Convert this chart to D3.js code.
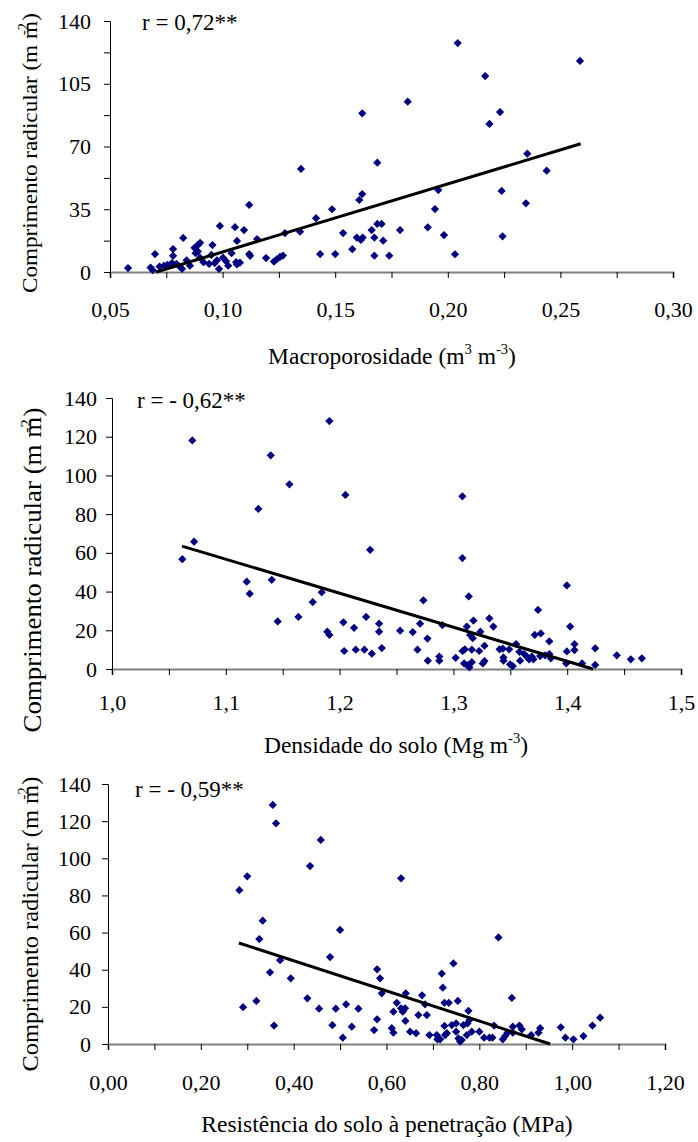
<!DOCTYPE html>
<html>
<head>
<meta charset="utf-8">
<title>Comprimento radicular</title>
<script src="https://cdn.jsdelivr.net/npm/d3@7"></script>
<style>
  body { margin: 0; background: #fff; }
  svg text { font-family: "Liberation Serif", "Times New Roman", serif; fill: #000; }
</style>
</head>
<body>
<div id="chart"></div>
<script>
// values: [x, comprimento radicular]
const macroPoints = [
  [0.058,2.2],[0.068,2.5],[0.069,1.0],[0.070,10],[0.072,3.0],[0.074,3.5],[0.0755,4.0],[0.078,12.8],
  [0.078,9.0],[0.0775,5.0],[0.0795,4.5],[0.081,3.0],[0.0825,19],[0.082,1.8],[0.084,6.5],[0.0855,3.5],
  [0.0875,13.5],[0.089,15],[0.090,16.3],[0.088,10.5],[0.089,11.5],[0.090,8.0],[0.0915,5.5],[0.094,4.5],
  [0.0955,15],[0.095,9.5],[0.0965,5.0],[0.0975,6.5],[0.0988,25.7],[0.0984,1.7],[0.1002,8.0],[0.1015,6.0],
  [0.1025,3.5],[0.104,10.5],[0.1055,25],[0.1064,17.3],[0.106,5.5],[0.1064,4.2],[0.1077,5.2],[0.1095,23.4],
  [0.1118,37.4],[0.1118,10],[0.1122,9],[0.1153,18.4],[0.1193,7.8],[0.1228,5.8],[0.124,7.0],[0.1255,8.4],
  [0.1268,9.2],[0.1277,21.7],[0.1348,57.5],[0.1344,22.5],[0.1415,30],[0.1433,10],[0.1486,35],[0.150,10],
  [0.1535,21.7],[0.1576,12.7],[0.1596,19.2],[0.1614,17.9],[0.1622,19.2],[0.1607,40.2],[0.162,43.5],
  [0.162,88.5],[0.1662,23.4],[0.1674,19.2],[0.1674,9.1],[0.1687,26.8],[0.1706,26.8],[0.1687,61],
  [0.1713,17.5],[0.174,9.1],[0.1788,23.4],[0.1822,95],[0.1911,24.9],[0.1943,35.1],[0.1958,45.7],
  [0.1983,20.6],[0.2032,9.9],[0.2044,127.7],[0.2166,109.3],[0.2185,82.6],[0.2232,89.2],[0.2239,45.2],
  [0.2243,19.9],[0.2347,38.3],[0.2353,66],[0.2439,56.5],[0.2587,117.7]
];
const densityPoints = [
  [1.0618,56.7],[1.0706,118.1],[1.0721,65.8],[1.1184,45.1],[1.121,38.9],[1.1286,82.7],[1.1395,110.4],
  [1.1404,46.1],[1.1456,24.6],[1.1559,95.4],[1.1638,26.9],[1.1764,34.6],[1.1843,39.6],[1.1892,19.3],
  [1.191,17.6],[1.191,128.1],[1.2033,24.1],[1.204,9.3],[1.2051,89.9],[1.2127,21.3],[1.2142,10],
  [1.2218,10],[1.2233,26.9],[1.2268,61.6],[1.2283,7.9],[1.2347,23.4],[1.2347,19.3],[1.2371,10.8],
  [1.2532,19.8],[1.2643,19.1],[1.2684,10],[1.2707,23.4],[1.2736,35.5],[1.2772,15.7],[1.2775,4.3],
  [1.2876,6.4],[1.2876,4.3],[1.2903,22.7],[1.302,5.8],[1.3079,89.2],[1.3079,57.3],[1.308,9.3],
  [1.310,10.2],[1.3094,2.9],[1.3123,2.0],[1.314,0.9],[1.3118,21.9],[1.3135,37.5],[1.3147,17.6],
  [1.317,15.9],[1.3176,25],[1.3162,10],[1.3162,3.5],[1.3226,9.3],[1.3237,19.3],[1.3258,2.9],
  [1.3273,4.1],[1.3273,12],[1.3316,26.2],[1.3351,21.9],[1.3406,10.2],[1.3434,10.5],[1.344,6.0],
  [1.344,4.3],[1.349,10.2],[1.3498,2.4],[1.3522,1.5],[1.3551,12.9],[1.358,8.9],[1.3586,4.3],
  [1.3622,7.7],[1.3645,6.4],[1.3665,5.0],[1.3689,6.4],[1.3703,5.0],[1.3715,17.6],[1.3744,30.5],
  [1.3768,18.4],[1.3762,6.7],[1.3806,7.1],[1.3843,7.7],[1.3856,5.5],[1.3843,14.3],[1.3997,43.2],
  [1.3997,9.1],[1.3991,2.9],[1.4026,21.9],[1.4064,12.8],[1.4064,9.8],[1.4131,2.9],[1.4246,10.7],
  [1.4246,2.1],[1.4436,7.1],[1.4559,5.0],[1.4656,5.5]
];
const resistancePoints = [
  [0.283,82.8],[0.291,19.8],[0.300,90.3],[0.3196,23.2],[0.326,56.5],[0.3333,66.4],[0.349,38.6],
  [0.355,128.7],[0.3577,9.9],[0.362,118.8],[0.3707,45.1],[0.3937,35.4],[0.4295,24.6],[0.4353,95.8],
  [0.4547,19],[0.4584,109.9],[0.4784,46.8],[0.4834,10.1],[0.4907,19],[0.50,61.4],[0.5058,3.4],
  [0.5129,21.4],[0.5252,9.3],[0.5395,19],[0.5732,7.5],[0.5797,13.3],[0.5797,40.2],[0.5862,35.4],
  [0.5898,27.3],[0.6114,8.5],[0.6149,6.1],[0.6149,17.4],[0.6221,22.2],[0.6314,89.2],[0.6314,19.2],
  [0.635,17.4],[0.64,19.2],[0.6415,27.3],[0.6407,12.4],[0.6508,6.6],[0.6637,5.8],[0.6687,15.6],
  [0.6767,26.2],[0.6831,21.4],[0.6868,15.6],[0.6925,4.8],[0.7083,4.8],[0.7097,2.5],[0.7155,2.5],
  [0.7191,37.9],[0.7213,30.3],[0.7248,22.2],[0.7342,22.2],[0.7248,9.7],[0.730,5.8],[0.7262,4.8],
  [0.7407,10.2],[0.750,11.1],[0.7442,43.4],[0.7536,23.2],[0.750,6.6],[0.755,3.0],[0.7586,1.3],
  [0.762,2.2],[0.7657,10.2],[0.773,4.8],[0.7765,17.9],[0.7743,11.1],[0.7787,12.9],[0.7837,6.6],
  [0.800,6.6],[0.8103,3.4],[0.8217,3.4],[0.8282,3.4],[0.8318,9.9],[0.8412,57.4],[0.8505,2.5],
  [0.8555,4.3],[0.8605,6.1],[0.870,24.8],[0.8721,9.3],[0.8721,6.1],[0.8864,9.9],[0.8915,7.9],
  [0.9116,4.8],[0.9273,6.1],[0.931,8.5],[0.9755,9.0],[0.9855,3.4],[1.0027,2.5],[1.0243,4.3],
  [1.0437,9.9],[1.0603,14.2]
];

// regression line end points
const macroFit = [[0.0705, 0], [0.259, 71.5]];
const densityFit = [[1.0615, 63.5], [1.4227, 0]];
const resistanceFit = [[0.282, 54.4], [0.9526, 0]];

const rLabels = ["r = 0,72**", "r = - 0,62**", "r = - 0,59**"];
// [text, superscript?, dx in em]
const xTitles = [
  [["Macroporosidade (m", 0], ["3", 1], [" m", 0], ["-3", 1], [")", 0]],
  [["Densidade do solo (Mg m", 0], ["-3", 1], [")", 0]],
  [["Resistência do solo à penetração (MPa)", 0]]
];
const yTitle = [["Comprimento radicular (m m", 0], ["-2", 1, -0.6], [")", 0, 0.1]];

const macroXTicks = d3.range(0, 11).map(i => 0.05 + i * 0.025);
const densityXTicks = d3.range(0, 11).map(i => 1.0 + i * 0.05);
const resistanceXTicks = d3.range(0, 13).map(i => i * 0.1);
const macroYTicks = d3.range(0, 9).map(i => i * 17.5);
const yTicks20 = [0, 20, 40, 60, 80, 100, 120, 140];

const W = 698, H = 1142;
const svg = d3.select('#chart').append('svg')
  .attr('width', W).attr('height', H);

const panels = [
  { pts: macroPoints, fit: macroFit, xDom: [0.05, 0.30], xr: [110, 673], yr: [272, 21],
    xt: macroXTicks, xEvery: 2, xfmt: d3.format('.2f'), yt: macroYTicks, yEvery: 2,
    xPad: 23, yPad: 13, xTitleY: 364, xTitleC: 392,
    yTitleX: 37, yTitleC: 153, yTitleLen: 280, yTitleSize: 22, rx: 142, ry: 30 },
  { pts: densityPoints, fit: densityFit, xDom: [1.0, 1.5], xr: [112, 681], yr: [669, 398],
    xt: densityXTicks, xEvery: 2, xfmt: d3.format('.1f'), yt: yTicks20, yEvery: 1,
    xPad: 19, yPad: 9, xTitleY: 753, xTitleC: 396,
    yTitleX: 41, yTitleC: 570, yTitleLen: 325, yTitleSize: 25, rx: 137, ry: 408 },
  { pts: resistancePoints, fit: resistanceFit, xDom: [0, 1.2], xr: [108, 665], yr: [1044, 784],
    xt: resistanceXTicks, xEvery: 2, xfmt: d3.format('.2f'), yt: yTicks20, yEvery: 1,
    xPad: 24, yPad: 11, xTitleY: 1132, xTitleC: 387,
    yTitleX: 38, yTitleC: 924, yTitleLen: 295, yTitleSize: 23, rx: 135, ry: 797 }
];

const diamond = d3.symbol(d3.symbolSquare, 34);

function richText(sel, parts, size) {
  let up = false;
  parts.forEach(p => {
    const t = sel.append('tspan').text(p[0]);
    let dy = 0;
    if (p[1]) { t.attr('font-size', size * 0.62); dy = -size * 0.42; up = true; }
    else if (up) { dy = size * 0.42; up = false; }
    t.attr('dy', dy);
    if (p[2]) t.attr('dx', p[2] * size);
  });
}

panels.forEach((p, k) => {
  const x = d3.scaleLinear().domain(p.xDom).range(p.xr);
  const y = d3.scaleLinear().domain([0, 140]).range(p.yr);
  const g = svg.append('g');

  const xAxis = d3.axisBottom(x).tickValues(p.xt).tickSize(6).tickPadding(p.xPad)
    .tickFormat((d, i) => i % p.xEvery ? '' : p.xfmt(d).replace('.', ','));
  const gx = g.append('g').attr('transform', 'translate(0,' + p.yr[0] + ')').call(xAxis);
  gx.select('.domain').attr('stroke', '#808080').attr('stroke-width', 2);
  gx.selectAll('.tick line').attr('stroke', '#000');
  gx.selectAll('text').attr('font-size', 22);

  const yAxis = d3.axisLeft(y).tickValues(p.yt).tickSize(6).tickPadding(p.yPad)
    .tickFormat((d, i) => i % p.yEvery ? '' : d3.format('d')(d));
  const gy = g.append('g').attr('transform', 'translate(' + p.xr[0] + ',0)').call(yAxis);
  gy.select('.domain').attr('stroke', '#000');
  gy.selectAll('text').attr('font-size', 22);

  // points
  g.selectAll('path.pt').data(p.pts).enter().append('path')
    .attr('class', 'pt')
    .attr('d', diamond)
    .attr('transform', d => 'translate(' + x(d[0]) + ',' + y(d[1]) + ') rotate(45)')
    .attr('fill', '#000080');

  // regression line
  g.append('line')
    .attr('x1', x(p.fit[0][0])).attr('y1', y(p.fit[0][1]))
    .attr('x2', x(p.fit[1][0])).attr('y2', y(p.fit[1][1]))
    .attr('stroke', '#000').attr('stroke-width', 3);

  g.append('text').attr('x', p.rx).attr('y', p.ry).attr('font-size', 23).text(rLabels[k]);

  const xt = g.append('text').attr('x', p.xTitleC).attr('y', p.xTitleY)
    .attr('text-anchor', 'middle').attr('font-size', 23.5);
  richText(xt, xTitles[k], 23.5);

  const yt = g.append('text')
    .attr('transform', 'translate(' + p.yTitleX + ',' + p.yTitleC + ') rotate(-90)')
    .attr('text-anchor', 'middle').attr('font-size', p.yTitleSize)
    .attr('textLength', p.yTitleLen).attr('lengthAdjust', 'spacingAndGlyphs');
  richText(yt, yTitle, p.yTitleSize);
});
</script>
</body>
</html>
